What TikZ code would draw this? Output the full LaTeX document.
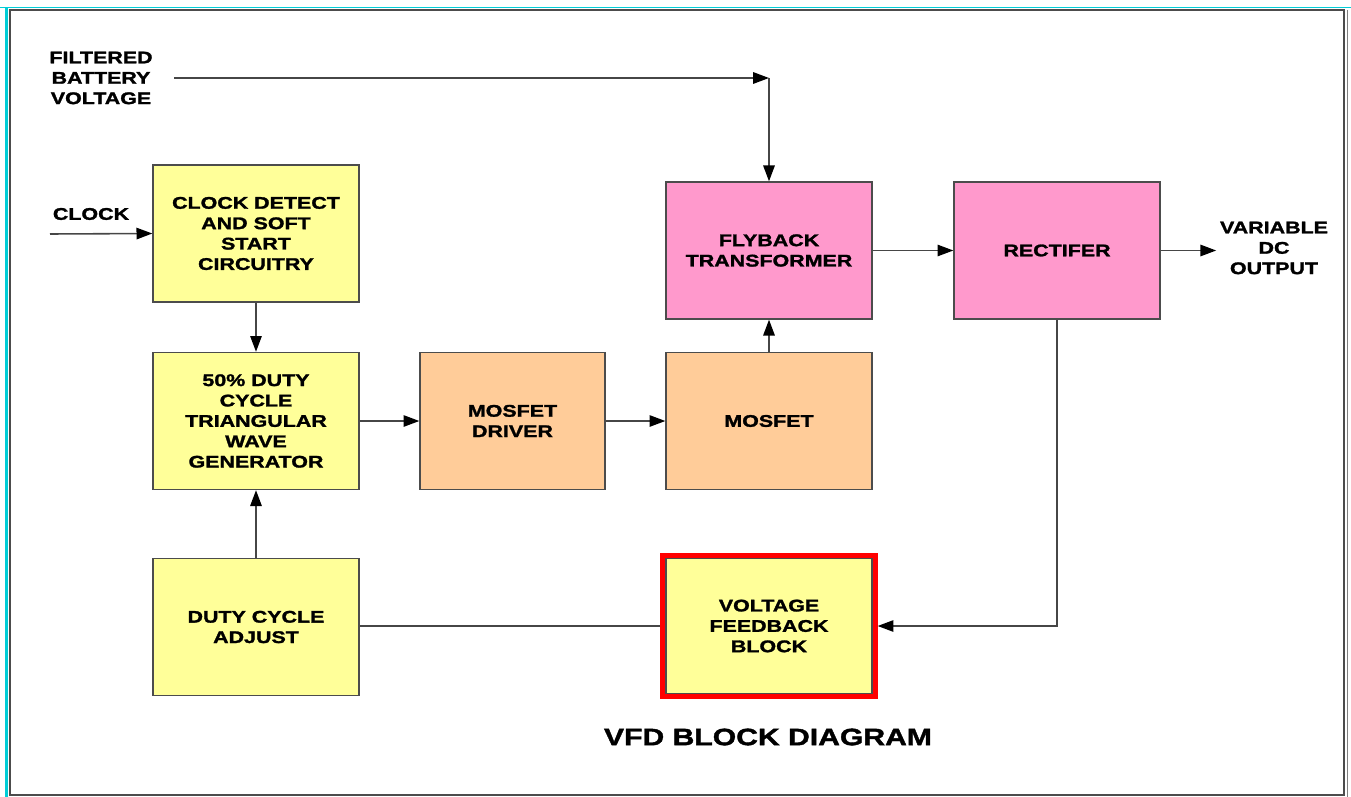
\documentclass[tikz,border=0pt]{standalone}
\usepackage{fontspec}
\newfontfamily\vfdfont{Liberation Sans}[FakeStretch=1.27, FakeBold=1.6]
\usepackage{tikz}
\usetikzlibrary{arrows.meta, fit}
\usepackage{xcolor}
\definecolor{blkYellow}{RGB}{255, 255, 153}
\definecolor{blkPink}{RGB}{255, 153, 204}
\definecolor{blkOrange}{RGB}{255, 204, 153}
\definecolor{wireGray}{RGB}{70, 70, 70}
\definecolor{frameCyan}{RGB}{0, 205, 215}

\begin{document}
\begin{tikzpicture}[x=0.02cm, y=-0.02cm,
    block/.style={draw=black!70, line width=0.8pt, minimum width=4.12cm, minimum height=2.74cm,
      align=center, inner sep=2pt, font=\vfdfont\bfseries\fontsize{9.6}{11.6}\selectfont},
    sidetext/.style={align=center, inner sep=2pt, font=\vfdfont\bfseries\fontsize{9.6}{11.6}\selectfont},
    wire/.style={draw=wireGray, line width=0.9pt},
    arr/.style={wire, -{Triangle[length=9pt, width=6.5pt, color=black]}}]
  \useasboundingbox (0,0) rectangle (1351,797);

  % page frame
  \draw[frameCyan, line width=0.8pt] (0,7.5) -- (1351,7.5);
  \draw[frameCyan, line width=1.7pt] (6.5,7.5) -- (6.5,797);
  \draw[black!70, line width=1pt] (10,10) rectangle (1344,795);
  \draw[gray, line width=0.6pt] (1347.5,10) -- (1347.5,797);

  % blocks
  \node[block, fill=blkYellow] (clk) at (256,233.5) {CLOCK DETECT\\AND SOFT\\START\\CIRCUITRY};
  \node[block, fill=blkYellow] (tri) at (256,421) {50\% DUTY\\CYCLE\\TRIANGULAR\\WAVE\\GENERATOR};
  \node[block, fill=blkYellow] (adj) at (256,627) {DUTY CYCLE\\ADJUST};
  \node[block, fill=blkOrange, minimum width=3.7cm] (drv) at (512.5,421) {MOSFET\\DRIVER};
  \node[block, fill=blkOrange] (fet) at (769,421) {MOSFET};
  \node[block, fill=blkPink] (fly) at (769,250.5) {FLYBACK\\TRANSFORMER};
  \node[block, fill=blkPink] (rect) at (1057,250.5) {RECTIFER};
  \node[block, fill=blkYellow, minimum height=2.7cm] (fb) at (769,626) {VOLTAGE\\FEEDBACK\\BLOCK};
  \node[fit=(fb), draw=red, line width=2.8pt, inner sep=0.05cm] (fbframe) {};

  % outside texts
  \node[sidetext] (fbv) at (101,78) {FILTERED\\BATTERY\\VOLTAGE};
  \node[sidetext] (clkin) at (91,214) {CLOCK};
  \node[sidetext] (dcout) at (1274,248) {VARIABLE\\DC\\OUTPUT};
  \node[font=\vfdfont\bfseries\fontsize{13.5}{16}\selectfont] (title) at (768,737) {VFD BLOCK DIAGRAM};
  \coordinate (bend) at (769,78);
  \coordinate (clksrc) at (50,234);

  % connectors
  \draw[arr] ([xshift=10]fbv.east) -- (bend);
  \draw[arr] (bend) -- (fly.north);
  \draw[arr] (clksrc) -- (clk.west);
  \draw[arr] (clk.south) -- (tri.north);
  \draw[arr] (adj.north) -- (tri.south);
  \draw[arr] (tri.east) -- (drv.west);
  \draw[arr] (drv.east) -- (fet.west);
  \draw[arr] (fet.north) -- (fly.south);
  \draw[arr] (fly.east) -- (rect.west);
  \draw[arr] (rect.east) -- (rect.east -| dcout.west);
  \draw[arr] (rect.south) |- (fbframe.east);
  \draw[wire] (fbframe.west) -- (fbframe.west -| adj.east);
\end{tikzpicture}
\end{document}
